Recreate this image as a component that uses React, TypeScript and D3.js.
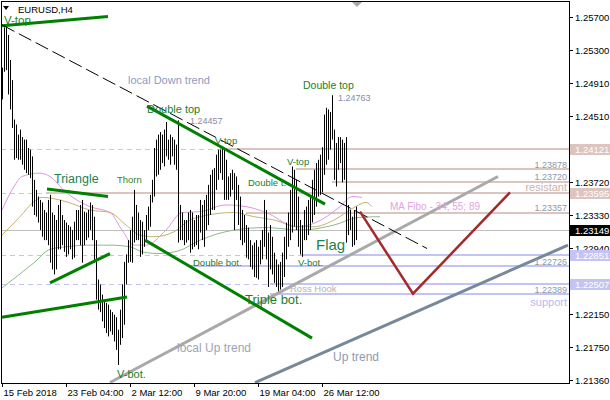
import * as d3 from 'd3';

const W = 610;
const H = 400;
const LEFT = 1;
const RIGHT = 569;
const TOP = 1;
const BOTTOM = 383;
const FONT = '"Liberation Sans", Arial, sans-serif';

// H4 bars from 15 Feb 2018, price x 10000
const highs = [
  12509, 12557, 12559, 12548, 12518, 12494, 12447, 12441, 12429, 12435,
  12426, 12423, 12423, 12413, 12411, 12403, 12375, 12363, 12355, 12351,
  12348, 12339, 12336, 12351, 12357, 12336, 12333, 12327, 12345, 12351,
  12333, 12327, 12324, 12321, 12319, 12315, 12325, 12339, 12339, 12345,
  12351, 12337, 12336, 12339, 12348, 12345, 12331, 12303, 12256, 12250,
  12238, 12232, 12228, 12226, 12220, 12217, 12214, 12211, 12196, 12220,
  12250, 12277, 12286, 12303, 12315, 12331, 12363, 12345, 12336, 12327,
  12325, 12315, 12333, 12343, 12357, 12375, 12413, 12423, 12429, 12432,
  12429, 12435, 12444, 12423, 12429, 12426, 12423, 12417, 12446, 12345,
  12336, 12327, 12327, 12336, 12339, 12336, 12327, 12333, 12333, 12351,
  12345, 12351, 12357, 12369, 12381, 12387, 12389, 12405, 12411, 12411,
  12414, 12411, 12399, 12379, 12383, 12387, 12383, 12379, 12369, 12355,
  12339, 12333, 12321, 12318, 12303, 12297, 12300, 12303, 12295, 12303,
  12315, 12351, 12339, 12312, 12321, 12307, 12288, 12280, 12274, 12277,
  12288, 12307, 12324, 12336, 12363, 12391, 12387, 12375, 12355, 12327,
  12321, 12339, 12343, 12351, 12355, 12375, 12387, 12395, 12399, 12405,
  12414, 12453, 12461, 12459, 12456, 12476, 12435, 12419, 12426, 12426,
  12423, 12419, 12426, 12345, 12339, 12331, 12339, 12343,
];
const lows = [
  12471, 12504, 12506, 12477, 12459, 12437, 12399, 12401, 12399, 12399,
  12393, 12387, 12383, 12381, 12377, 12343, 12333, 12331, 12324, 12315,
  12307, 12303, 12303, 12297, 12276, 12268, 12262, 12268, 12292, 12292,
  12297, 12289, 12283, 12286, 12292, 12280, 12282, 12303, 12303, 12297,
  12276, 12297, 12303, 12306, 12315, 12303, 12276, 12232, 12220, 12217,
  12206, 12198, 12192, 12188, 12194, 12190, 12182, 12172, 12154, 12178,
  12186, 12202, 12250, 12276, 12277, 12276, 12300, 12303, 12303, 12283,
  12286, 12295, 12303, 12315, 12319, 12348, 12355, 12379, 12381, 12387,
  12395, 12391, 12403, 12399, 12393, 12403, 12393, 12387, 12300, 12303,
  12303, 12297, 12300, 12303, 12288, 12292, 12295, 12297, 12292, 12312,
  12303, 12295, 12315, 12321, 12333, 12339, 12339, 12363, 12375, 12383,
  12375, 12351, 12351, 12351, 12355, 12363, 12315, 12351, 12321, 12303,
  12297, 12300, 12282, 12280, 12271, 12268, 12259, 12258, 12256, 12274,
  12280, 12295, 12280, 12247, 12268, 12262, 12252, 12247, 12240, 12244,
  12247, 12259, 12280, 12295, 12303, 12312, 12319, 12315, 12295, 12286,
  12283, 12303, 12303, 12309, 12315, 12324, 12333, 12343, 12355, 12357,
  12360, 12381, 12393, 12399, 12411, 12423, 12375, 12367, 12387, 12395,
  12372, 12375, 12300, 12309, 12315, 12295, 12297, 12303,
];

// MA Fibo 34 / 55 / 89, sampled [bar, price x 10000]
const ma34 = [[0, 12339], [6, 12367], [10, 12379], [19, 12383], [24, 12379], [32, 12360], [44, 12343], [54, 12336], [60, 12315], [66, 12297], [72, 12297], [82, 12315], [90, 12336], [99, 12337], [112, 12345], [122, 12343], [132, 12336], [147, 12319], [157, 12324], [169, 12343], [175, 12355], [180, 12354]];
const ma55 = [[0, 12309], [9, 12331], [16, 12349], [20, 12354], [32, 12349], [44, 12339], [54, 12336], [62, 12321], [69, 12309], [76, 12307], [86, 12313], [94, 12327], [99, 12331], [116, 12336], [126, 12331], [136, 12327], [148, 12319], [156, 12319], [166, 12327], [176, 12342], [182, 12348], [185, 12343]];
const ma89 = [[0, 12246], [16, 12276], [24, 12292], [32, 12295], [44, 12297], [54, 12297], [64, 12295], [70, 12289], [78, 12287], [88, 12290], [99, 12303], [116, 12315], [132, 12318], [149, 12315], [166, 12321], [178, 12330], [189, 12331]];

// level lines: price, kind, bar where the solid part starts, dashed before it
const levelPrices = [1.24121, 1.23878, 1.2372, 1.23595, 1.23357, 1.22851, 1.22726, 1.22507, 1.22389];
const levelKinds = ['res', 'res', 'res', 'res', 'res', 'sup', 'sup', 'sup', 'sup'];
const levelStart = [109, 147, 165, 22, 122, 149, 94, 134, 134];
const levelDashed = [true, false, false, true, false, true, false, true, false];
const levelBoxed = [true, false, false, true, false, true, false, true, false];
const lastPrice = 1.23149;

// trend lines: [bar, price x 10000] pairs
const greenLines = [
  [[0, 12559], [53, 12570]],
  [[22.5, 12364], [53, 12355]],
  [[24, 12252], [54, 12287]],
  [[0, 12211], [62.5, 12235]],
  [[72.5, 12463], [161.5, 12346]],
  [[71.5, 12303], [155, 12186]],
];
const downTrend = [[0, 12560], [212.5, 12293]];
const localUpTrend = [[54, 12133], [248, 12379]];
const upTrend = [[126.5, 12133], [283, 12297]];
const projection = [[179, 12337], [205.5, 12239], [254, 12360]];

const priceTicks = [1.257, 1.253, 1.2491, 1.2451, 1.2372, 1.2333, 1.2294, 1.2215, 1.2175, 1.2136];
const timeLabels = ['15 Feb 2018', '23 Feb 04:00', '2 Mar 12:00', '9 Mar 20:00', '19 Mar 04:00', '26 Mar 12:00'];
const timeBars = [0, 32, 64, 96, 128, 160];

const xs = d3.scaleLinear().domain([0, 283.5]).range([2, RIGHT]);
const ys = d3.scaleLinear().domain([1.2136, 1.257]).range([380, 16.5]);

const RES = '#dcc4bf';
const SUP = '#c4c4f4';
const GREEN_TXT = '#1c7d2c';

function pt(p: number[]): [number, number] {
  return [xs(p[0]), ys(p[1] / 10000)];
}

function maPath(data: number[][]) {
  return d3.line<number[]>()
    .x(d => xs(d[0]))
    .y(d => ys(d[1] / 10000))
    .curve(d3.curveMonotoneX)(data) ?? '';
}

function polyPath(data: number[][]) {
  return d3.line<number[]>().x(d => pt(d)[0]).y(d => pt(d)[1])(data) ?? '';
}

const labels: { t: string; x: number; y: number; s: number; c: string; a?: string }[] = [
  { t: 'V-top', x: 4, y: 24, s: 11.5, c: GREEN_TXT },
  { t: 'local Down trend', x: 128, y: 84, s: 11, c: '#8e9bc2' },
  { t: 'Double top', x: 147, y: 113, s: 11, c: GREEN_TXT },
  { t: '1.24457', x: 190, y: 124, s: 9, c: '#8a8aa6' },
  { t: 'V-top', x: 215, y: 144, s: 9.5, c: GREEN_TXT },
  { t: 'Thorn', x: 117, y: 183, s: 9.5, c: '#3f7f22' },
  { t: 'Triangle', x: 54, y: 183, s: 12.5, c: '#1f7f4f' },
  { t: 'Double t.', x: 248, y: 186, s: 9.5, c: GREEN_TXT },
  { t: 'V-top', x: 287, y: 165, s: 9.5, c: GREEN_TXT },
  { t: 'Double top', x: 303, y: 89, s: 10.5, c: GREEN_TXT },
  { t: '1.24763', x: 338, y: 101, s: 9, c: '#8a8aa6' },
  { t: 'Flag', x: 316, y: 250, s: 15, c: '#1f7f4f' },
  { t: 'Double bot.', x: 193, y: 266, s: 9.5, c: GREEN_TXT },
  { t: 'V-bot.', x: 298, y: 266, s: 9.5, c: GREEN_TXT },
  { t: 'Ross Hook', x: 290, y: 292, s: 9.5, c: '#b4b4b4' },
  { t: 'Triple bot.', x: 245, y: 304, s: 13, c: GREEN_TXT },
  { t: 'V-bot.', x: 117, y: 378, s: 11, c: GREEN_TXT },
  { t: 'local Up trend', x: 177, y: 352, s: 12, c: '#9ea4b4' },
  { t: 'Up trend', x: 333, y: 361, s: 12, c: '#8f9ab2' },
  { t: 'MA Fibo - 34; 55; 89', x: 390, y: 210, s: 10, c: '#e3a2e3' },
  { t: '1.23878', x: 567, y: 168, s: 9, c: '#8c98b0', a: 'end' },
  { t: '1.23720', x: 567, y: 180, s: 9, c: '#8c98b0', a: 'end' },
  { t: 'resistant', x: 567, y: 191, s: 11, c: '#cbb2ae', a: 'end' },
  { t: '1.23357', x: 567, y: 211, s: 9, c: '#8c98b0', a: 'end' },
  { t: '1.22726', x: 567, y: 265, s: 9, c: '#8c98b0', a: 'end' },
  { t: '1.22389', x: 567, y: 293, s: 9, c: '#8c98b0', a: 'end' },
  { t: 'support', x: 567, y: 306, s: 11, c: '#b9b9ee', a: 'end' },
];

export default function App() {
  return (
    <svg width={W} height={H} style={{ position: 'fixed', left: 0, top: 0, background: '#fff' }}
      fontFamily={FONT}>
      <rect x={0} y={0} width={W} height={H} fill="#fff" />

      {/* level lines */}
      {levelPrices.map((p, i) => {
        const y = Math.round(ys(p));
        const c = levelKinds[i] === 'res' ? RES : SUP;
        const xs0 = xs(levelStart[i]);
        return (
          <g key={'lv' + i}>
            {levelDashed[i] && (
              <line x1={LEFT} x2={xs0} y1={y + 0.5} y2={y + 0.5} stroke={c} strokeWidth={1} strokeDasharray="5,4" />
            )}
            <line x1={xs0} x2={RIGHT} y1={y} y2={y} stroke={c} strokeWidth={2} />
          </g>
        );
      })}
      <line x1={LEFT} x2={RIGHT} y1={Math.round(ys(lastPrice)) + 0.5} y2={Math.round(ys(lastPrice)) + 0.5} stroke="#c0c0c0" strokeWidth={1} />

      {/* moving averages */}
      <path d={maPath(ma89)} fill="none" stroke="#8cbc8c" strokeWidth={1} />
      <path d={maPath(ma55)} fill="none" stroke="#c2b46e" strokeWidth={1} />
      <path d={maPath(ma34)} fill="none" stroke="#de98de" strokeWidth={1} />

      {/* bars */}
      {highs.map((h, i) => (
        <line key={'b' + i} x1={Math.round(xs(i)) + 0.5} x2={Math.round(xs(i)) + 0.5}
          y1={ys(h / 10000)} y2={ys(lows[i] / 10000)} stroke="#000" strokeWidth={1} />
      ))}

      {/* trend lines */}
      <path d={polyPath(localUpTrend)} stroke="#a9a9a9" strokeWidth={3} fill="none" />
      <path d={polyPath(upTrend)} stroke="#778899" strokeWidth={3} fill="none" />
      {greenLines.map((l, i) => (
        <path key={'g' + i} d={polyPath(l)} stroke="#008000" strokeWidth={3} fill="none" />
      ))}
      <path d={polyPath(downTrend)} stroke="#000" strokeWidth={1} strokeDasharray="14,5" fill="none" />
      <path d={polyPath(projection)} stroke="#a52a2a" strokeWidth={2.5} fill="none" />

      {/* annotations */}
      {labels.map((l, i) => (
        <text key={'t' + i} x={l.x} y={l.y} fontSize={l.s} fill={l.c} textAnchor={l.a ?? 'start'}>{l.t}</text>
      ))}

      {/* header */}
      <path d="M3,6 L9,6 L6,10 Z" fill="#000" />
      <text x={18} y={13} fontSize={9.5} fill="#000">EURUSD,H4</text>
      <path d="M352,2 L362,2 L357,7 Z" fill="#a8a8a8" />

      {/* frame */}
      <rect x={LEFT + 0.5} y={TOP + 0.5} width={RIGHT - LEFT} height={BOTTOM - TOP} fill="none" stroke="#000" strokeWidth={1} />

      {/* price axis */}
      {priceTicks.map((p, i) => {
        const y = Math.round(ys(p)) + 0.5;
        return (
          <g key={'pt' + i}>
            <line x1={RIGHT} x2={RIGHT + 4} y1={y} y2={y} stroke="#000" />
            <text x={RIGHT + 6} y={y + 3.5} fontSize={9.5} fill="#000">{p.toFixed(5)}</text>
          </g>
        );
      })}
      {levelPrices.map((p, i) => levelBoxed[i] ? (
        <g key={'bx' + i}>
          <rect x={RIGHT + 1} y={Math.round(ys(p)) - 5} width={W - RIGHT - 1} height={11}
            fill={levelKinds[i] === 'res' ? RES : SUP} />
          <text x={RIGHT + 6} y={Math.round(ys(p)) + 4} fontSize={9.5} fill="#fff">{p.toFixed(5)}</text>
        </g>
      ) : null)}
      <rect x={RIGHT + 1} y={Math.round(ys(lastPrice)) - 5} width={W - RIGHT - 1} height={11} fill="#000" />
      <text x={RIGHT + 6} y={Math.round(ys(lastPrice)) + 4} fontSize={9.5} fill="#fff">{lastPrice.toFixed(5)}</text>

      {/* time axis */}
      {timeBars.map((b, i) => {
        const x = Math.round(xs(b)) + 0.5;
        return (
          <g key={'tt' + i}>
            <line x1={x} x2={x} y1={BOTTOM} y2={BOTTOM + 4} stroke="#000" />
            <text x={x + 1} y={396} fontSize={9.5} fill="#000">{timeLabels[i]}</text>
          </g>
        );
      })}
    </svg>
  );
}
